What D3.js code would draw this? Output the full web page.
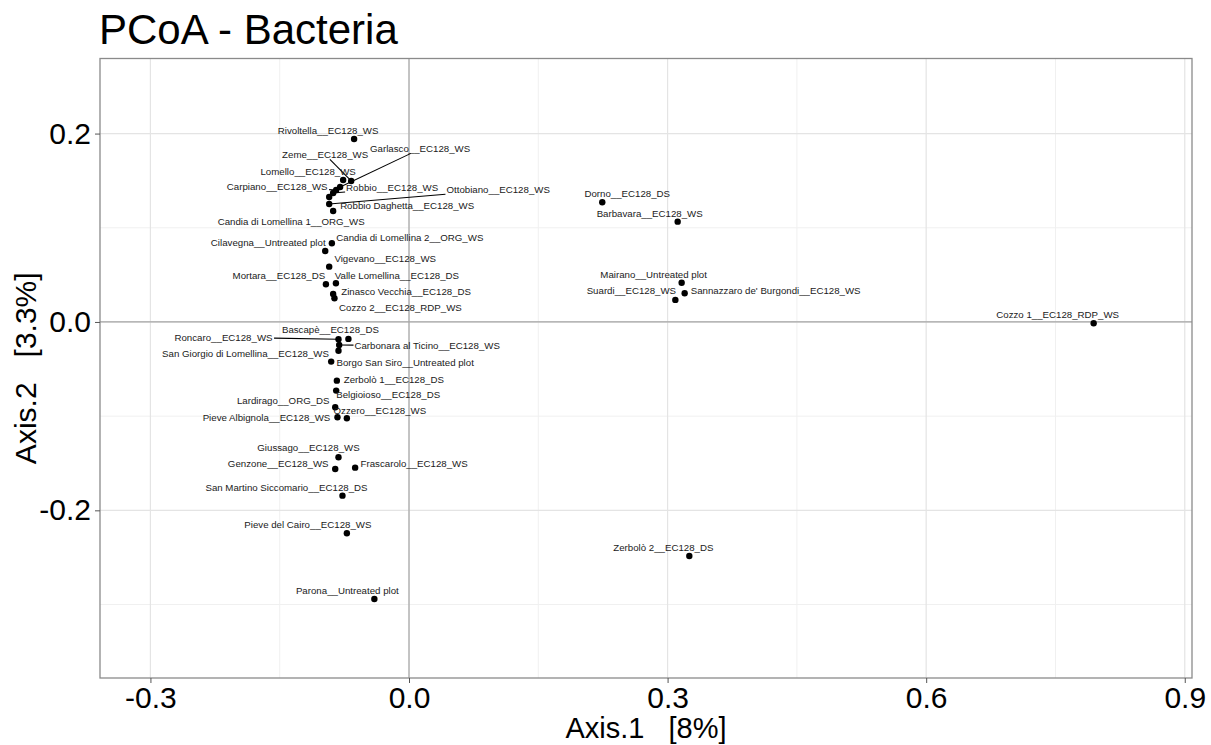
<!DOCTYPE html>
<meta charset="utf-8">
<head>
<style>
  body { margin: 0; background: #fff; }
  text { font-family: "Liberation Sans", Arial, sans-serif; }
  .axis path.domain { display: none; }
  .axis line { stroke: #555; }
  .axis text { fill: #000; font-size: 30px; }
</style>
</head>
<body>
<script src="https://cdn.jsdelivr.net/npm/d3@7"></script>
<script>

// sample names and ordination coordinates
var samples = [
  "Rivoltella__EC128_WS", "Garlasco__EC128_WS", "Zeme__EC128_WS", "Lomello__EC128_WS",
  "Carpiano__EC128_WS", "Robbio__EC128_WS", "Robbio Daghetta__EC128_WS", "Ottobiano__EC128_WS",
  "Candia di Lomellina 1__ORG_WS", "Candia di Lomellina 2__ORG_WS", "Cilavegna__Untreated plot",
  "Vigevano__EC128_WS", "Mortara__EC128_DS", "Valle Lomellina__EC128_DS", "Zinasco Vecchia__EC128_DS",
  "Cozzo 2__EC128_RDP_WS", "Bascapè__EC128_DS", "Roncaro__EC128_WS", "Carbonara al Ticino__EC128_WS",
  "San Giorgio di Lomellina__EC128_WS", "Borgo San Siro__Untreated plot", "Zerbolò 1__EC128_DS",
  "Belgioioso__EC128_DS", "Lardirago__ORG_DS", "Ozzero__EC128_WS", "Pieve Albignola__EC128_WS",
  "Giussago__EC128_WS", "Genzone__EC128_WS", "Frascarolo__EC128_WS", "San Martino Siccomario__EC128_DS",
  "Pieve del Cairo__EC128_WS", "Parona__Untreated plot", "Dorno__EC128_DS", "Barbavara__EC128_WS",
  "Mairano__Untreated plot", "Sannazzaro de' Burgondi__EC128_WS", "Suardi__EC128_WS",
  "Zerbolò 2__EC128_DS", "Cozzo 1__EC128_RDP_WS"
];
var axis1 = [
  -0.0637, -0.0799, -0.0671, -0.0764, -0.0845, -0.0880, -0.0926, -0.0926, -0.0880, -0.0895,
  -0.0972, -0.0926, -0.0964, -0.0848, -0.0880, -0.0865, -0.0703, -0.0818, -0.0810, -0.0818,
  -0.0903, -0.0837, -0.0845, -0.0856, -0.0721, -0.0830, -0.0818, -0.0856, -0.0625, -0.0772,
  -0.0721, -0.0402, 0.2242, 0.3117, 0.3163, 0.3198, 0.3090, 0.3252, 0.7943
];
var axis2 = [
  0.1943, 0.1433, 0.1497, 0.1507, 0.1401, 0.1369, 0.1327, 0.1253, 0.1178, 0.0835,
  0.0754, 0.0587, 0.0400, 0.0411, 0.0297, 0.0252, -0.0180, -0.0184, -0.0244, -0.0305,
  -0.0421, -0.0623, -0.0729, -0.0906, -0.1022, -0.1012, -0.1436, -0.1561, -0.1547, -0.1844,
  -0.2243, -0.2941, 0.1271, 0.1065, 0.0417, 0.0305, 0.0234, -0.2484, -0.0014
];
var xTicks = [-0.3, 0.0, 0.3, 0.6, 0.9];
var yTicks = [-0.2, 0.0, 0.2];
var xMinor = [-0.15, 0.15, 0.45, 0.75];
var yMinor = [-0.3, -0.1, 0.1];

// repelled label placement (pixel offset of label centre from its point)
var labelDx = [-26, 80, -26, -35, -59, 59, 78, 169, -42, 78, -57, 56, -47, 61, 73, 66, -18, -115, 88, -93,
  74, 57, 52, -52, 33, -71, -30, -57, 59, -56, -39, -27, 25, -28, -28, 91, -44, -26, -36];
var labelDy = [-8, -38, -26, -8, -3, -5, 9, -14, 11, -6, -8, -8, -9, -8, -2, 9, -9, -2, 1, 3,
  1, -1, 4, -7, -8, 0, -10, -5, -4, -8, -9, -8, -9, -8, -8, -3, -9, -8, -9];
var withSegment = ["Garlasco__EC128_WS", "Zeme__EC128_WS", "Carpiano__EC128_WS", "Robbio__EC128_WS",
  "Ottobiano__EC128_WS", "Roncaro__EC128_WS", "Carbonara al Ticino__EC128_WS"];

var W = 1211, H = 745;
var panel = {left: 100, right: 1192, top: 58.5, bottom: 678};

var x = d3.scaleLinear().domain([-0.3585, 0.9084]).range([panel.left, panel.right]);
var y = d3.scaleLinear().domain([-0.378, 0.2797]).range([panel.bottom, panel.top]);

var svg = d3.select("body").append("svg")
    .attr("width", W)
    .attr("height", H);

// grid
var grid = svg.append("g");
grid.selectAll(".vminor").data(xMinor).enter().append("line")
    .attr("x1", d => x(d)).attr("x2", d => x(d))
    .attr("y1", panel.top).attr("y2", panel.bottom)
    .style("stroke", "#f0f0f0").style("stroke-width", 1);
grid.selectAll(".hminor").data(yMinor).enter().append("line")
    .attr("y1", d => y(d)).attr("y2", d => y(d))
    .attr("x1", panel.left).attr("x2", panel.right)
    .style("stroke", "#f0f0f0").style("stroke-width", 1);
grid.selectAll(".vmajor").data(xTicks).enter().append("line")
    .attr("x1", d => x(d)).attr("x2", d => x(d))
    .attr("y1", panel.top).attr("y2", panel.bottom)
    .style("stroke", "#e4e4e4").style("stroke-width", 1.2);
grid.selectAll(".hmajor").data(yTicks).enter().append("line")
    .attr("y1", d => y(d)).attr("y2", d => y(d))
    .attr("x1", panel.left).attr("x2", panel.right)
    .style("stroke", "#e4e4e4").style("stroke-width", 1.2);

// zero lines
svg.append("line")
    .attr("x1", x(0)).attr("x2", x(0))
    .attr("y1", panel.top).attr("y2", panel.bottom)
    .style("stroke", "#a6a6a6").style("stroke-width", 1.2);
svg.append("line")
    .attr("y1", y(0)).attr("y2", y(0))
    .attr("x1", panel.left).attr("x2", panel.right)
    .style("stroke", "#a6a6a6").style("stroke-width", 1.2);

// panel border
svg.append("rect")
    .attr("x", panel.left).attr("y", panel.top)
    .attr("width", panel.right - panel.left)
    .attr("height", panel.bottom - panel.top)
    .style("fill", "none").style("stroke", "#8a8a8a").style("stroke-width", 1.3);

// axes
svg.append("g")
    .attr("class", "axis")
    .attr("transform", "translate(0," + panel.bottom + ")")
    .call(d3.axisBottom(x).tickValues(xTicks).tickFormat(d3.format(".1f")).tickSize(5).tickPadding(4));

svg.append("g")
    .attr("class", "axis")
    .attr("transform", "translate(" + panel.left + ",0)")
    .call(d3.axisLeft(y).tickValues(yTicks).tickFormat(d3.format(".1f")).tickSize(5).tickPadding(4));

svg.selectAll(".axis text").text(function() { return this.textContent.replace("−", "-"); });

var segLayer = svg.append("g");

// points
var idx = d3.range(samples.length);
svg.selectAll(".pt").data(idx).enter().append("circle")
    .attr("cx", i => x(axis1[i]))
    .attr("cy", i => y(axis2[i]))
    .attr("r", 3.2)
    .style("fill", "#000");

// labels
var labels = svg.append("g").selectAll("text").data(idx).enter().append("text")
    .attr("x", i => x(axis1[i]) + labelDx[i])
    .attr("y", i => y(axis2[i]) + labelDy[i])
    .attr("dy", "0.35em")
    .attr("text-anchor", "middle")
    .style("font-size", "9.7px")
    .style("fill", "#1a1a1a")
    .text(i => samples[i]);

// segments from point to label box edge
labels.each(function(i) {
  if (withSegment.indexOf(samples[i]) < 0) return;
  var b = this.getBBox();
  var px = x(axis1[i]), py = y(axis2[i]);
  var cx = b.x + b.width / 2, cy = b.y + b.height / 2;
  var hw = b.width / 2 + 1, hh = b.height / 2 - 1;
  var dx = px - cx, dy = py - cy;
  var t = Math.min(hw / Math.abs(dx || 1e-9), hh / Math.abs(dy || 1e-9));
  segLayer.append("line")
      .attr("x1", px).attr("y1", py)
      .attr("x2", cx + dx * t).attr("y2", cy + dy * t)
      .style("stroke", "#000").style("stroke-width", 1.1);
});

// title and axis titles
svg.append("text")
    .attr("x", 99).attr("y", 44)
    .style("font-size", "42px")
    .text("PCoA - Bacteria");

svg.append("text")
    .attr("x", (panel.left + panel.right) / 2).attr("y", 738)
    .attr("text-anchor", "middle")
    .style("font-size", "29px")
    .style("white-space", "pre")
    .text("Axis.1   [8%]");

svg.append("text")
    .attr("transform", "translate(36," + ((panel.top + panel.bottom) / 2) + ") rotate(-90)")
    .attr("text-anchor", "middle")
    .style("font-size", "30px")
    .style("white-space", "pre")
    .text("Axis.2   [3.3%]");

</script>
</body>
